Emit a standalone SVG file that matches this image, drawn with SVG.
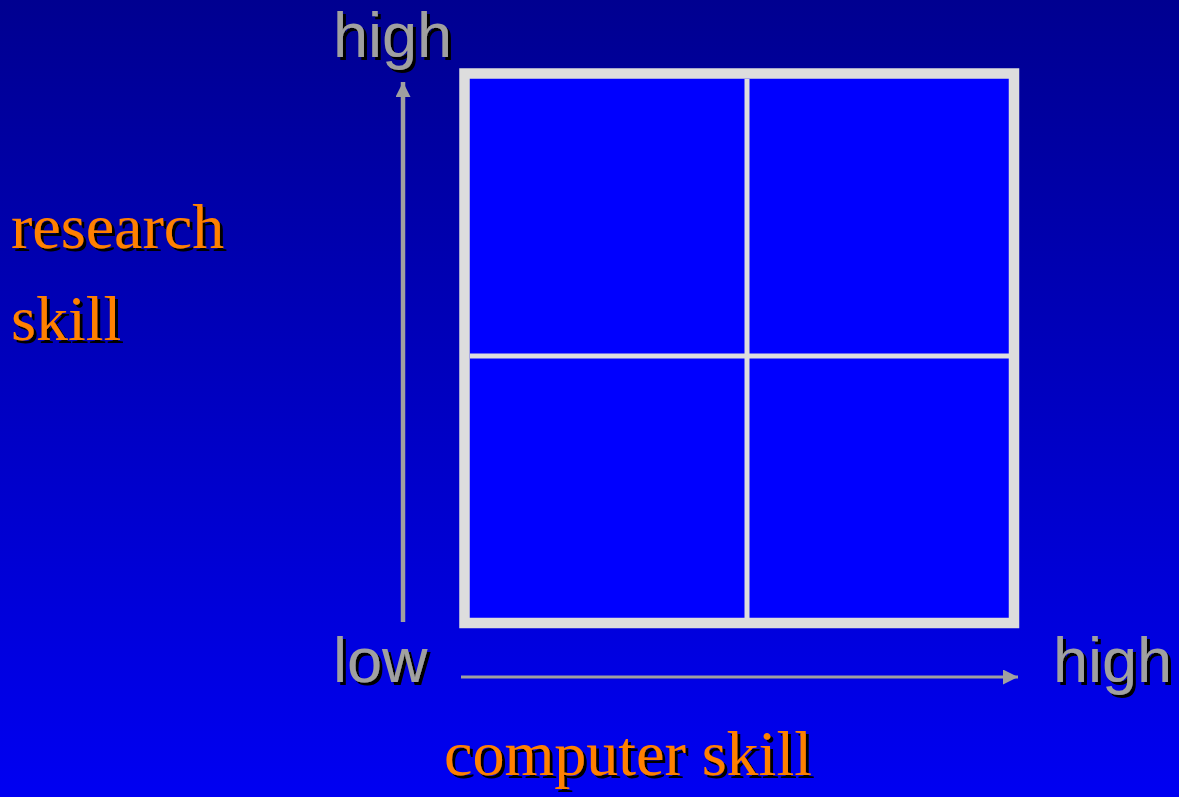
<svg xmlns="http://www.w3.org/2000/svg" width="1179" height="797" viewBox="0 0 1179 797">
<defs>
<linearGradient id="bg" x1="0" y1="0" x2="0" y2="1">
<stop offset="0" stop-color="#000090"/>
<stop offset="1" stop-color="#0000F2"/>
</linearGradient>
<filter id="shadow" x="-10%" y="-10%" width="130%" height="130%">
<feOffset in="SourceAlpha" dx="3" dy="3" result="off"/>
<feFlood flood-color="#000000"/>
<feComposite in2="off" operator="in" result="sh"/>
<feMerge><feMergeNode in="sh"/><feMergeNode in="SourceGraphic"/></feMerge>
</filter>
<marker id="ah" viewBox="0 0 10 10" refX="10" refY="5" markerWidth="16" markerHeight="15" markerUnits="userSpaceOnUse" orient="auto">
<path d="M0,0 L10,5 L0,10 Z" fill="#A0A0A0"/>
</marker>
<style>
.lbl{font-family:"Liberation Sans",Arial,sans-serif;font-size:63px;fill:#A0A0A0;filter:url(#shadow)}
.ttl{font-family:"Liberation Serif","Times New Roman",serif;font-size:64px;fill:#FF8000;filter:url(#shadow)}
.ax{stroke:#A0A0A0;fill:none}
</style>
</defs>
<rect x="0" y="0" width="1179" height="797" fill="url(#bg)"/>
<g id="grid">
<rect x="464.5" y="73.5" width="549.5" height="549.5" fill="#0000FF" stroke="#DDDDDD" stroke-width="10.5"/>
<line x1="747" y1="79" x2="747" y2="618" stroke="#DDDDDD" stroke-width="5"/>
<line x1="470" y1="356" x2="1009" y2="356" stroke="#DDDDDD" stroke-width="5"/>
</g>
<g id="connectors">
<line class="ax" x1="403" y1="622" x2="403" y2="82" stroke-width="4.5" marker-end="url(#ah)"/>
<line class="ax" x1="461" y1="677" x2="1018" y2="677" stroke-width="3" marker-end="url(#ah)"/>
</g>
<g id="label-high-y">
<text class="lbl" x="333" y="57">high</text>
</g>
<g id="label-low">
<text class="lbl" x="333" y="682">low</text>
</g>
<g id="label-high-x">
<text class="lbl" x="1053" y="682">high</text>
</g>
<g id="title-research">
<text class="ttl" x="11" y="248">research</text>
<text class="ttl" x="11" y="340">skill</text>
</g>
<g id="title-computer">
<text class="ttl" x="444" y="775">computer skill</text>
</g>
</svg>
